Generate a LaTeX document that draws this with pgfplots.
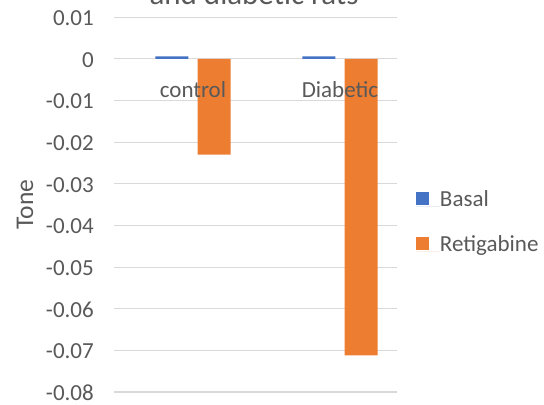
\documentclass[border=0pt]{standalone}
\usepackage{fontspec}
\setmainfont{Carlito}
\usepackage{pgfplots}
\pgfplotsset{compat=1.18}
\definecolor{basal}{HTML}{4472C4}
\definecolor{retig}{HTML}{ED7D31}
\definecolor{txt}{HTML}{595959}
\definecolor{gridc}{HTML}{D9D9D9}
\newcommand\tickfont{\fontsize{23bp}{27bp}\selectfont}
\begin{document}
\begin{tikzpicture}
\begin{axis}[
  scale only axis, width=283bp, height=374.7bp,
  at={(0,0)}, anchor=south west,
  xmin=-0.5374, xmax=1.3878, ymin=-0.08, ymax=0.01,
  axis lines=left,
  axis line style={draw=none},
  clip=false,
  scaled y ticks=false, scaled x ticks=false,
  xtick={0,1}, xticklabels={},
  ytick={-0.08,-0.07,-0.06,-0.05,-0.04,-0.03,-0.02,-0.01,0,0.01},
  yticklabels={-0.08,-0.07,-0.06,-0.05,-0.04,-0.03,-0.02,-0.01,0,0.01},
  major tick length=0pt,
  ymajorgrids, xmajorgrids=false,
  major grid style={draw=gridc, line width=1.1bp},
  tick label style={font=\tickfont, text=txt},
  yticklabel style={anchor=east, inner sep=0pt, xshift=-20bp, yshift=-1bp},
  bar width=0.2245,
  ylabel={Tone},
  every axis y label/.style={at={(axis description cs:-0.3145,0.5)}, rotate=90, anchor=center, font=\fontsize{25.5bp}{30bp}\selectfont, text=txt},
  legend style={at={(axis description cs:1.0671,0.451)}, anchor=west,
    draw=none, fill=none, inner sep=0pt, outer sep=0pt, row sep=24bp,
    nodes={inner sep=0pt, text height=16bp, text depth=5bp, font=\tickfont, text=txt},
    cells={anchor=base west}},
]
\addplot[ybar, fill=basal, draw=none, bar shift=-0.143,
  legend image code/.code={\fill[basal] (0bp,1bp) rectangle (13bp,14bp); \path (0bp,0bp) -- (24bp,0bp);}]
  coordinates {(0,0.0006) (1,0.0006)};
\addplot[ybar, fill=retig, draw=none, bar shift=0.143,
  legend image code/.code={\fill[retig] (0bp,1bp) rectangle (13bp,14bp); \path (0bp,0bp) -- (24bp,0bp);}]
  coordinates {(0,-0.023) (1,-0.0712)};
\legend{Basal,Retigabine}
\node[anchor=base, inner sep=0pt, font=\tickfont, text=txt, yshift=-39bp] at (axis cs:0,0) {control};
\node[anchor=base, inner sep=0pt, font=\tickfont, text=txt, yshift=-39bp] at (axis cs:1,0) {Diabetic};
\end{axis}
\node[anchor=base, font=\fontsize{31bp}{36bp}\selectfont, text=txt] at (140bp,387.7bp) {and diabetic rats};
\pgfresetboundingbox
\useasboundingbox (-114bp,-13bp) rectangle (430bp,392bp);
\end{tikzpicture}
\end{document}
